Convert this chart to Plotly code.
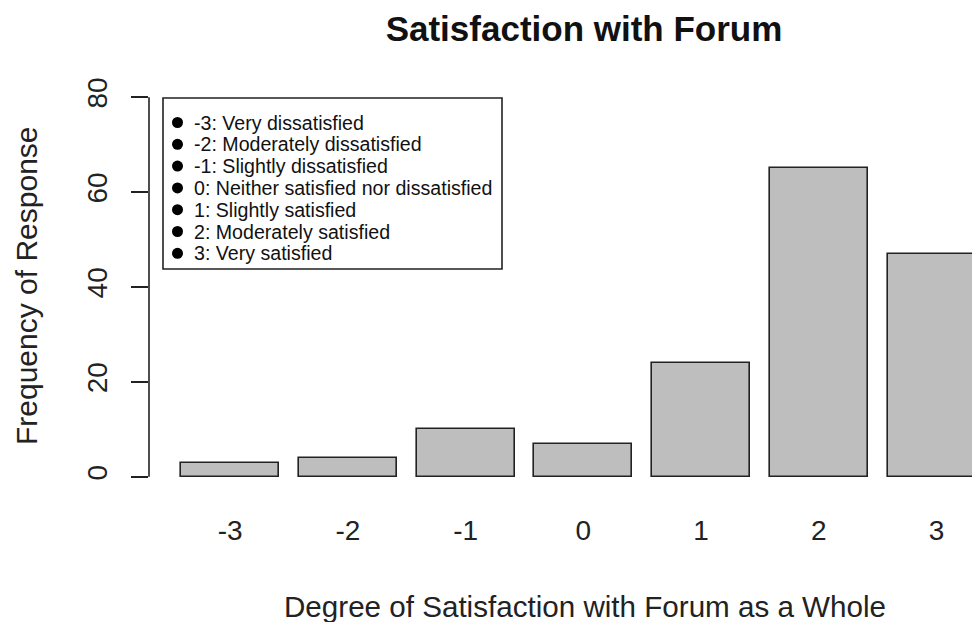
import plotly.graph_objects as go

# ---- data ----
categories = [-3, -2, -1, 0, 1, 2, 3]
counts = [3, 4, 10, 7, 24, 65, 47]
y_ticks = [0, 20, 40, 60, 80]
legend_labels = [
    "-3: Very dissatisfied",
    "-2: Moderately dissatisfied",
    "-1: Slightly dissatisfied",
    "0: Neither satisfied nor dissatisfied",
    "1: Slightly satisfied",
    "2: Moderately satisfied",
    "3: Very satisfied",
]
title_text = "Satisfaction with Forum"
x_title = "Degree of Satisfaction with Forum as a Whole"
y_title = "Frequency of Response"

# ---- layout geometry (pixels, in reference-image coordinates) ----
OX, OY = 8, 8                      # page body margin offset
W, H = 980 - OX, 622 - OY
L = 149 - OX
T = 82 - OY
B = H - (492 - OY)
R = 0
PW, PH = W - L - R, H - T - B
FONT = "Liberation Sans, Arial, sans-serif"


def px(xp):
    return (xp - OX - L) / PW


def py(yp):
    return (H - B - (yp - OY)) / PH


fig = go.Figure()
fig.add_trace(go.Bar(
    x=categories, y=counts, width=1 / 1.2,
    marker=dict(color="#BEBEBE", line=dict(color="#222222", width=1.6)),
    showlegend=False, hoverinfo="x+y",
))

shapes = []
annotations = []

# y axis line spanning 0..80 only (R style)
shapes.append(dict(type="line", xref="paper", yref="y", x0=0, x1=0,
                   y0=y_ticks[0], y1=y_ticks[-1],
                   line=dict(color="#222222", width=1.6)))

# legend box
shapes.append(dict(type="rect", xref="paper", yref="paper",
                   x0=px(163), x1=px(502), y0=py(269), y1=py(98),
                   line=dict(color="#222222", width=1.6), fillcolor="white"))
row0, row_step = 122.5, 21.8
for i, lab in enumerate(legend_labels):
    yc = row0 + i * row_step
    shapes.append(dict(type="circle", xref="paper", yref="paper",
                       x0=px(172), x1=px(183), y0=py(yc + 5.5), y1=py(yc - 5.5),
                       fillcolor="black", line=dict(color="black", width=0)))
    annotations.append(dict(text=lab, xref="paper", yref="paper",
                            x=px(192), y=py(yc), xanchor="left", yanchor="middle",
                            showarrow=False,
                            font=dict(family=FONT, size=19.6, color="#111111")))

# axis titles
annotations.append(dict(text=x_title, xref="paper", yref="paper",
                        x=px(585), y=py(606), xanchor="center", yanchor="middle",
                        showarrow=False, font=dict(family=FONT, size=29.6, color="#222222")))
annotations.append(dict(text=y_title, xref="paper", yref="paper",
                        x=px(26), y=py(286), xanchor="center", yanchor="middle",
                        textangle=-90, showarrow=False,
                        font=dict(family=FONT, size=30, color="#222222")))

fig.update_layout(
    width=W, height=H,
    margin=dict(l=L, r=R, t=T, b=B, autoexpand=False),
    paper_bgcolor="white", plot_bgcolor="white",
    title=dict(text="<b>" + title_text + "</b>", x=(584 - OX) / W, xanchor="center",
               y=1 - (29 - OY) / H, yanchor="middle", xref="container", yref="container",
               font=dict(family=FONT, size=35, color="#111111")),
    shapes=shapes, annotations=annotations,
    bargap=0,
)
fig.update_xaxes(
    range=[-3.69, 3.369], tickvals=categories, ticktext=[str(c) for c in categories],
    showgrid=False, zeroline=False, showline=False, ticks="",
    tickfont=dict(family=FONT, size=28, color="#222222"), ticklabelstandoff=19,
)
fig.update_yaxes(
    range=[-3.2, 83.2], tickvals=y_ticks, showgrid=False, zeroline=False,
    showline=False, ticks="outside", ticklen=17, tickwidth=1.6, tickcolor="#222222",
    tickangle=-90, tickfont=dict(family=FONT, size=28, color="#222222"),
    ticklabelstandoff=13,
)

fig.write_html("out.html")
